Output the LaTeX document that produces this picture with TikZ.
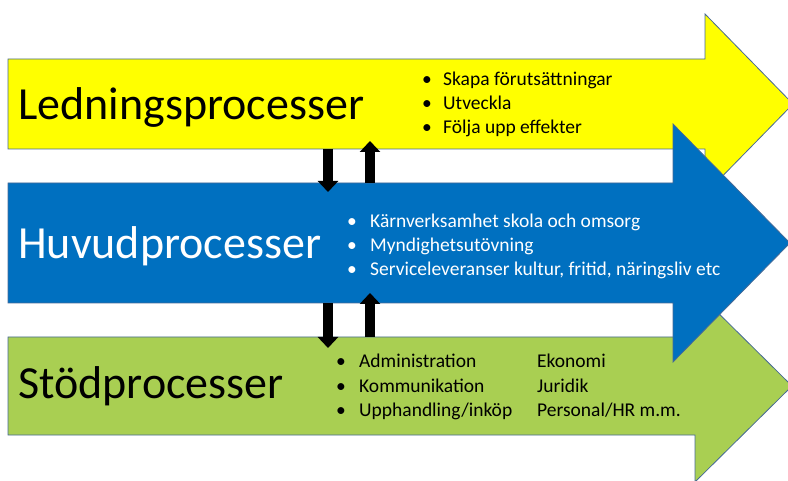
\documentclass[tikz,border=0pt]{standalone}
\usepackage{fontspec}
\setmainfont{Carlito}
\usetikzlibrary{arrows.meta}
\definecolor{ledgul}{RGB}{255,255,0}
\definecolor{huvbla}{RGB}{0,112,192}
\definecolor{stodgron}{RGB}{169,207,82}
\definecolor{kant}{RGB}{70,105,150}

\begin{document}
\begin{tikzpicture}[x=1pt,y=-1pt,
	process/.style={draw=kant,line width=0.8pt,line join=miter},
	rubrik/.style={anchor=base west,inner sep=0pt,font=\fontsize{46}{46}\selectfont},
	punkt/.style={anchor=base west,inner sep=0pt,font=\fontsize{19.5}{19.5}\selectfont},
	flode/.style={line width=10pt,-{Triangle[width=20pt,length=11pt]}}]
	
		\clip (0,0) rectangle (788,481);
		
		% Ledningsprocesser
		\draw[process,fill=ledgul] (8,59) -- (705,59) -- (705,14) -- (793,104)
			-- (705,194) -- (705,149) -- (8,149) -- cycle;
		
		% Stoedprocesser
		\draw[process,fill=stodgron] (8,337) -- (695,337) -- (695,290) -- (792,386)
			-- (695,482) -- (695,435) -- (8,435) -- cycle;
		
		% Huvudprocesser
		\draw[process,fill=huvbla] (8,183) -- (673,183) -- (673,124) -- (790,243)
			-- (673,362) -- (673,303) -- (8,303) -- cycle;
		
		% rubriker
		\node[rubrik] (led) at (18,120) {Ledningsprocesser};
		\node[rubrik,text=white] (huv) at (18,259) {Huvudprocesser};
		\node[rubrik] (stod) at (18,399) {Stödprocesser};
		
		% punktlistor
		\foreach \rad [count=\i] in {Skapa förutsättningar, Utveckla, Följa upp effekter} {
			\node[punkt] (ledb\i) at (422,{62+24*\i}) {•};
			\node[punkt] (ledt\i) at (443,{62+24*\i}) {\rad};
		}
		\foreach \rad [count=\i] in {Kärnverksamhet skola och omsorg, Myndighetsutövning,
			{Serviceleveranser kultur, fritid, näringsliv etc}} {
			\node[punkt,text=white] (huvb\i) at (347,{204+24*\i}) {•};
			\node[punkt,text=white] (huvt\i) at (370,{204+24*\i}) {\rad};
		}
		\foreach \rad/\extra [count=\i] in {Administration/Ekonomi, Kommunikation/Juridik,
			Upphandling\slash inköp/Personal\slash HR m.m.} {
			\node[punkt] (stodb\i) at (336,{344+24*\i}) {•};
			\node[punkt] (stodt\i) at (359,{344+24*\i}) {\rad};
			\node[punkt] (stodx\i) at (537,{344+24*\i}) {\extra};
		}
		
		% floden mellan processerna
		\coordinate (ledNed) at (328,149);
		\coordinate (huvIn) at (328,192);
		\coordinate (huvUpp) at (370,183);
		\coordinate (ledIn) at (370,141);
		\coordinate (huvNed) at (328,303);
		\coordinate (stodIn) at (328,348);
		\coordinate (stodUpp) at (370,337);
		\coordinate (huvIn2) at (370,293);
		\draw[flode] (ledNed) -- (huvIn);
		\draw[flode] (huvUpp) -- (ledIn);
		\draw[flode] (huvNed) -- (stodIn);
		\draw[flode] (stodUpp) -- (huvIn2);
	
	\end{tikzpicture}
\end{document}
